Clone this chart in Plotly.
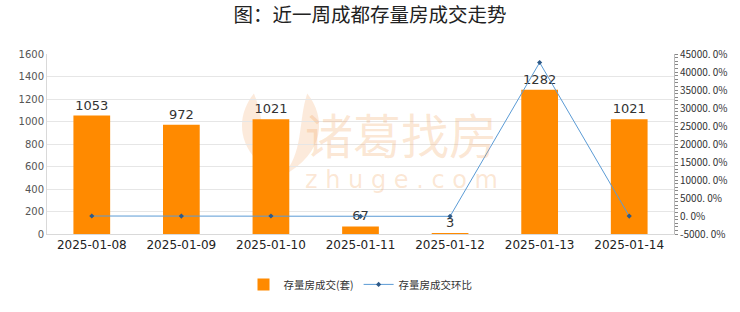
import plotly.graph_objects as go

dates = ["2025-01-08", "2025-01-09", "2025-01-10", "2025-01-11", "2025-01-12", "2025-01-13", "2025-01-14"]
deals = [1053, 972, 1021, 67, 3, 1282, 1021]
ratio = [-1.5, -7.7, 5.0, -93.4, -95.5, 42633.3, -20.4]
right_ticks = [-5000, 0, 5000, 10000, 15000, 20000, 25000, 30000, 35000, 40000, 45000]
right_labels = [f"{v}. 0%" for v in right_ticks]
left_ticks = list(range(0, 1601, 200))

font_cjk = "Noto Sans CJK SC"

fig = go.Figure()
fig.add_trace(go.Bar(
    x=dates, y=deals, name="存量房成交(套)",
    marker=dict(color="#FF8A00", line=dict(width=0)),
    text=[str(v) for v in deals], textposition="outside",
    textfont=dict(size=13, color="#333333", family="DejaVu Sans"),
    cliponaxis=False, yaxis="y",
))
fig.add_trace(go.Scatter(
    x=dates, y=ratio, name="存量房成交环比", mode="lines+markers",
    line=dict(color="#5B9BD5", width=1),
    marker=dict(color="#2E5A88", size=4, symbol="diamond"),
    yaxis="y2",
))

# watermark
wm = "rgba(242,160,90,0.26)"
fig.add_annotation(text="诸葛找房", x=0.565, y=0.56, xref="paper", yref="paper",
                   xanchor="center", yanchor="middle",
                   showarrow=False, font=dict(size=48, color=wm, family=font_cjk))
fig.add_annotation(text="z h u g e . c o m", x=0.565, y=0.30, xref="paper", yref="paper",
                   xanchor="center", yanchor="middle",
                   showarrow=False, font=dict(size=24, color=wm, family="DejaVu Sans"))
# flame-like logo drawn as shapes
fig.add_shape(type="path", xref="paper", yref="paper",
              path="M 0.33 0.78 C 0.30 0.65, 0.30 0.45, 0.37 0.32 C 0.34 0.45, 0.35 0.62, 0.33 0.78 Z",
              fillcolor="rgba(242,160,90,0.22)", line=dict(width=0), layer="below")
fig.add_shape(type="path", xref="paper", yref="paper",
              path="M 0.415 0.78 C 0.445 0.65, 0.445 0.45, 0.375 0.32 C 0.41 0.45, 0.40 0.62, 0.415 0.78 Z",
              fillcolor="rgba(242,160,90,0.22)", line=dict(width=0), layer="below")

fig.update_layout(
    width=740, height=312,
    margin=dict(l=47, r=64, t=54, b=78),
    paper_bgcolor="white", plot_bgcolor="white",
    title=dict(text="图：近一周成都存量房成交走势", x=0.5, xanchor="center", y=0.952, yanchor="middle",
               font=dict(size=19.5, color="#222222", family=font_cjk)),
    bargap=0.59,
    showlegend=True,
    legend=dict(orientation="h", x=0.5, xanchor="center", y=-0.28, yanchor="middle",
                font=dict(size=10.5, color="#333333", family=font_cjk), itemwidth=30),
    xaxis=dict(type="category", showline=True, linecolor="#D9D9D9", linewidth=1,
               tickfont=dict(size=12, color="#222222", family="DejaVu Sans"), ticks="",
               showgrid=False),
    yaxis=dict(range=[0, 1600], tickvals=left_ticks, showgrid=True, gridcolor="#E6E6E6",
               showline=True, linecolor="#D9D9D9", ticks="",
               tickfont=dict(size=10, color="#555555", family="DejaVu Sans"), zeroline=False),
    yaxis2=dict(range=[-5000, 45000], overlaying="y", side="right", tickvals=right_ticks,
                ticktext=right_labels, showgrid=False, zeroline=False,
                showline=True, linecolor="#BBBBBB", linewidth=1,
                ticks="outside", ticklen=3, tickcolor="#888888",
                minor=dict(dtick=1000, ticks="outside", ticklen=3, tickcolor="#888888"),
                tickfont=dict(size=10, color="#333333", family=font_cjk)),
)

fig.write_html("out.html")
